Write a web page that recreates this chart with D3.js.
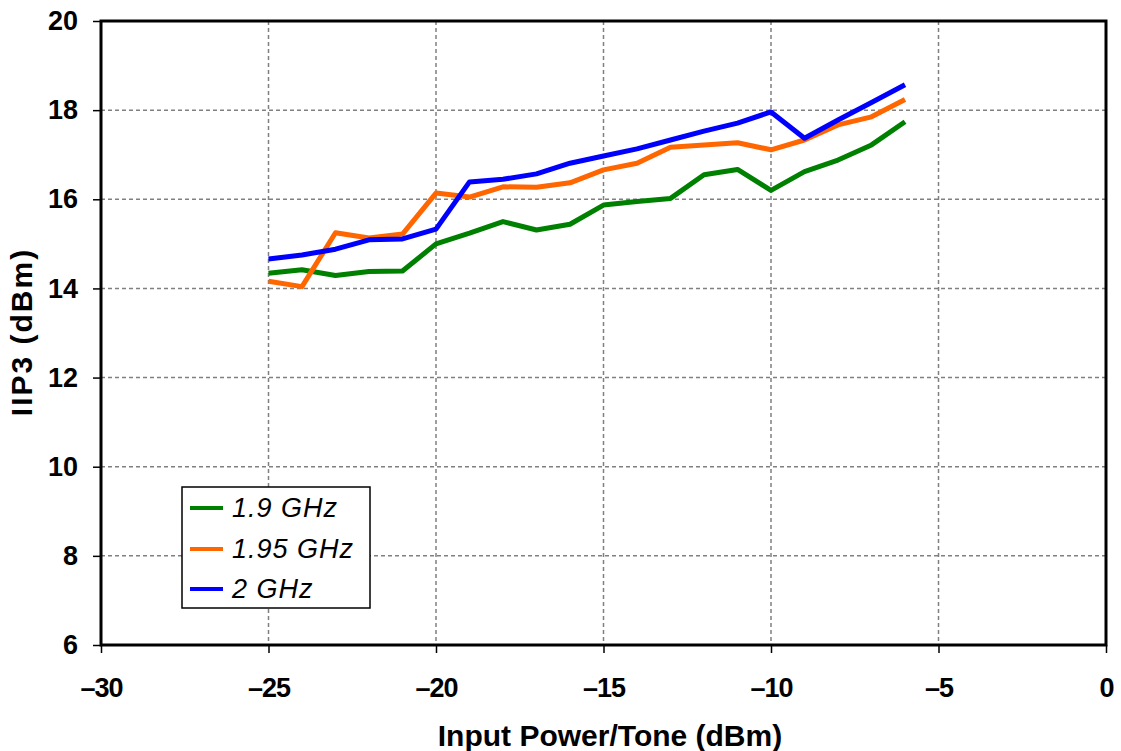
<!DOCTYPE html>
<html>
<head>
<meta charset="utf-8">
<script src="https://cdn.jsdelivr.net/npm/d3@7"></script>
<style>
  body { margin: 0; background: #fff; }
  svg text { font-family: Arial, "Liberation Sans", sans-serif; }
  .tick text { font-size: 27px; font-weight: bold; fill: #000; }
  .grid line { stroke: #808080; stroke-width: 1.5px; stroke-dasharray: 4 3; }
</style>
</head>
<body>
<svg id="chart" width="1121" height="751"></svg>
<script>
// input power per tone (dBm)
const inputPower = [-25, -24, -23, -22, -21, -20, -19, -18, -17, -16,
                    -15, -14, -13, -12, -11, -10, -9, -8, -7, -6];
// IIP3 readings (dBm) for each frequency
const iip3_19 = [14.34, 14.42, 14.29, 14.38, 14.39, 15.0, 15.24, 15.5, 15.31, 15.44,
                 15.87, 15.95, 16.02, 16.55, 16.67, 16.2, 16.62, 16.88, 17.22, 17.74];
const iip3_195 = [14.16, 14.04, 15.25, 15.13, 15.22, 16.14, 16.05, 16.28, 16.27, 16.37,
                  16.66, 16.81, 17.17, 17.22, 17.27, 17.11, 17.33, 17.67, 17.85, 18.24];
const iip3_2 = [14.66, 14.75, 14.88, 15.09, 15.11, 15.33, 16.39, 16.45, 16.57, 16.81,
                16.97, 17.13, 17.33, 17.53, 17.71, 17.96, 17.37, 17.78, 18.17, 18.57];
const seriesNames = ["1.9 GHz", "1.95 GHz", "2 GHz"];
const seriesColors = ["#008000", "#ff6600", "#0000ff"];
const xTicks = [-30, -25, -20, -15, -10, -5, 0];
const yTicks = [6, 8, 10, 12, 14, 16, 18, 20];

const svg = d3.select("#chart");
const plotL = 101, plotR = 1106, plotT = 21, plotB = 645;

const x = d3.scaleLinear().domain([-30, 0]).range([plotL, plotR]);
const y = d3.scaleLinear().domain([6, 20]).range([plotB, plotT]);

// grid lines
svg.append("g").attr("class", "grid")
  .selectAll("line").data(xTicks.slice(1, -1)).enter().append("line")
  .attr("x1", d => x(d)).attr("x2", d => x(d))
  .attr("y1", plotT).attr("y2", plotB);
svg.append("g").attr("class", "grid")
  .selectAll("line").data(yTicks.slice(1, -1)).enter().append("line")
  .attr("x1", plotL).attr("x2", plotR)
  .attr("y1", d => y(d)).attr("y2", d => y(d));

// axes
const xAxis = svg.append("g")
  .attr("transform", "translate(0," + plotB + ")")
  .call(d3.axisBottom(x).tickValues(xTicks).tickSize(8).tickPadding(25)
    .tickFormat(d => d === 0 ? "0" : "\u2013" + Math.abs(d)));
const yAxis = svg.append("g")
  .attr("transform", "translate(" + plotL + ",0)")
  .call(d3.axisLeft(y).tickValues(yTicks).tickSize(8).tickPadding(15));
[xAxis, yAxis].forEach(a => {
  a.select(".domain").remove();
  a.selectAll(".tick line").attr("stroke", "#000").attr("stroke-width", 1.5);
});
xAxis.selectAll(".tick text").attr("letter-spacing", "-1px");

// plot frame
svg.append("rect")
  .attr("x", plotL).attr("y", plotT)
  .attr("width", plotR - plotL).attr("height", plotB - plotT)
  .attr("fill", "none").attr("stroke", "#000").attr("stroke-width", 3);

// data lines
const line = d3.line().x((d, i) => x(inputPower[i])).y(d => y(d));
[iip3_19, iip3_195, iip3_2].forEach((vals, k) => {
  svg.append("path")
    .datum(vals)
    .attr("d", line)
    .attr("fill", "none")
    .attr("stroke", seriesColors[k])
    .attr("stroke-width", 5)
    .attr("stroke-linejoin", "round");
});

// axis titles
svg.append("text")
  .attr("x", 610).attr("y", 746)
  .attr("text-anchor", "middle")
  .style("font-size", "30px").style("font-weight", "bold")
  .text("Input Power/Tone (dBm)");
svg.append("text")
  .attr("transform", "translate(32,332) rotate(-90)")
  .attr("text-anchor", "middle")
  .style("font-size", "30px").style("font-weight", "bold")
  .style("letter-spacing", "2px")
  .text("IIP3 (dBm)");

// legend
const legend = svg.append("g");
legend.append("rect")
  .attr("x", 182).attr("y", 487).attr("width", 188).attr("height", 121)
  .attr("fill", "#fff").attr("stroke", "#000").attr("stroke-width", 1.5);
const rowY = [508, 549, 589];
seriesNames.forEach((name, k) => {
  legend.append("line")
    .attr("x1", 190).attr("x2", 223)
    .attr("y1", rowY[k]).attr("y2", rowY[k])
    .attr("stroke", seriesColors[k]).attr("stroke-width", 4);
  legend.append("text")
    .attr("x", 232).attr("y", rowY[k] + 9)
    .style("font-size", "27px").style("font-style", "italic")
    .style("letter-spacing", "1px")
    .text(name);
});
</script>
</body>
</html>
